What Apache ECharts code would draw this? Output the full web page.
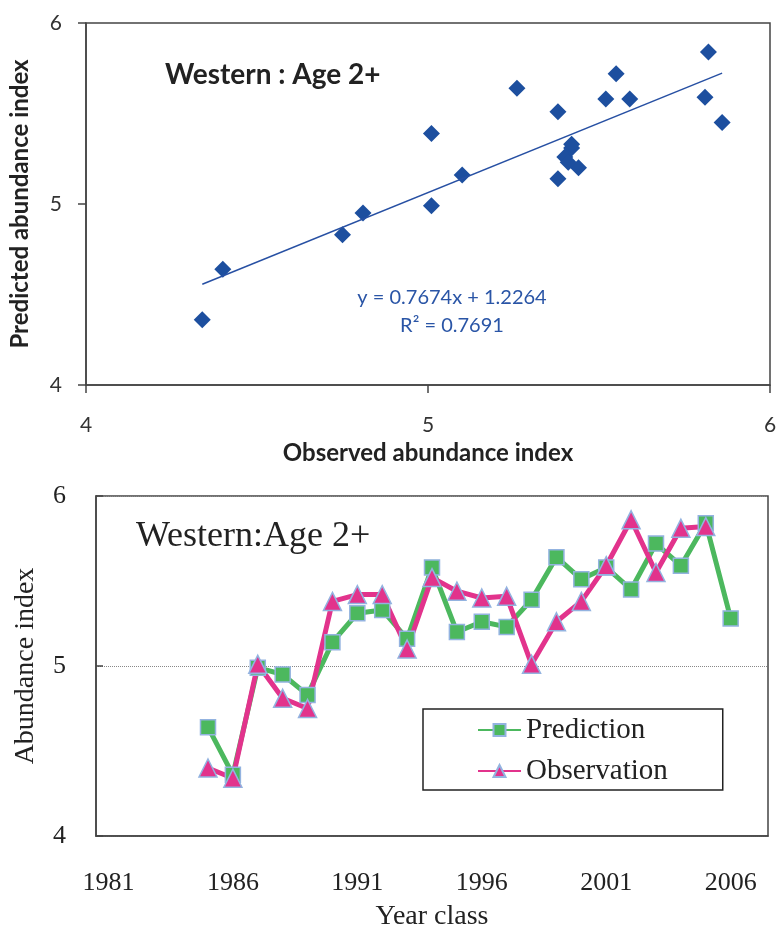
<!DOCTYPE html>
<html>
<head>
<meta charset="utf-8">
<script src="https://cdn.jsdelivr.net/npm/echarts@6/dist/echarts.min.js"></script>
<style>
  html, body { margin: 0; padding: 0; background: #fff; }
  #main { width: 779px; height: 932px; }
</style>
</head>
<body>
<div id="main"></div>
<script>
// year classes with data
const years = [1985, 1986, 1987, 1988, 1989, 1990, 1991, 1992, 1993, 1994, 1995,
  1996, 1997, 1998, 1999, 2000, 2001, 2002, 2003, 2004, 2005, 2006];
const observed = [4.40, 4.34, 5.01, 4.81, 4.75, 5.38, 5.42, 5.42, 5.10, 5.52, 5.44,
  5.40, 5.41, 5.01, 5.26, 5.38, 5.59, 5.86, 5.55, 5.81, 5.82, null];
const predicted = [4.64, 4.36, 4.99, 4.95, 4.83, 5.14, 5.31, 5.33, 5.16, 5.58, 5.20,
  5.26, 5.23, 5.39, 5.64, 5.51, 5.58, 5.45, 5.72, 5.59, 5.84, 5.28];
// category axis of the time series
const axisYears = ['1981', '1982', '1983', '1984', '1985', '1986', '1987', '1988', '1989',
  '1990', '1991', '1992', '1993', '1994', '1995', '1996', '1997', '1998', '1999', '2000',
  '2001', '2002', '2003', '2004', '2005', '2006', '2007'];
// fitted line y = 0.7674x + 1.2264, drawn over the observed range
const trendLine = [[4.34, 4.557], [5.86, 5.723]];
const eqText = ['y = 0.7674x + 1.2264', 'R\u00b2 = 0.7691'];

const blue = '#1d4f9f';
const green = '#4cb85e';
const pink = '#e2338c';
const edge = '#93b3e0';
const frame = '#444';
const sans = 'Lato';
const serif = 'Liberation Serif';

var dom = document.getElementById('main');
var myChart = echarts.init(dom, null, { renderer: 'canvas' });

var scatterData = [];
for (let i = 0; i < years.length; i++) {
  if (observed[i] != null) scatterData.push([observed[i], predicted[i]]);
}
var predData = years.map((y, i) => [String(y), predicted[i]]);
var obsData = [];
years.forEach((y, i) => { if (observed[i] != null) obsData.push([String(y), observed[i]]); });

var option = {
  backgroundColor: '#fff',
  animation: false,
  grid: [
    { left: 86, top: 23, width: 684, height: 362, show: true, borderColor: frame, borderWidth: 1.5,
      backgroundColor: '#fff', outerBoundsMode: 'none', containLabel: false },
    { left: 96, top: 496, width: 672, height: 340, show: true, borderColor: frame, borderWidth: 1.5,
      backgroundColor: '#fff', outerBoundsMode: 'none', containLabel: false }
  ],
  xAxis: [
    {
      gridIndex: 0, type: 'value', min: 4, max: 6, interval: 1,
      splitLine: { show: false },
      axisLine: { lineStyle: { color: frame, width: 1.5 } },
      axisTick: { length: 8, lineStyle: { color: frame, width: 1.5 } },
      axisLabel: { margin: 30, fontSize: 21, fontFamily: sans, color: '#333' },
      name: 'Observed abundance index', nameLocation: 'middle', nameGap: 56,
      nameTextStyle: { fontSize: 24, fontWeight: 'bold', fontFamily: sans, color: '#222' }
    },
    {
      gridIndex: 1, type: 'category', data: axisYears, boundaryGap: true,
      axisLine: { lineStyle: { color: frame, width: 1.5 } },
      axisTick: { inside: true, length: 8, interval: 0, lineStyle: { color: frame, width: 1.2 } },
      axisLabel: { interval: 4, margin: 34, fontSize: 26, fontFamily: serif, color: '#222' },
      name: 'Year class', nameLocation: 'middle', nameGap: 67,
      nameTextStyle: { fontSize: 28, fontFamily: serif, color: '#222' }
    }
  ],
  yAxis: [
    {
      gridIndex: 0, type: 'value', min: 4, max: 6, interval: 1,
      splitLine: { show: false },
      axisLine: { show: true, lineStyle: { color: frame, width: 1.5 } },
      axisTick: { show: true, length: 8, lineStyle: { color: frame, width: 1.5 } },
      axisLabel: { margin: 24, fontSize: 21, fontFamily: sans, color: '#333' },
      name: 'Predicted abundance index', nameLocation: 'middle', nameGap: 54,
      nameTextStyle: { fontSize: 24, fontWeight: 'bold', fontFamily: sans, color: '#222' }
    },
    {
      gridIndex: 1, type: 'value', min: 4, max: 6, interval: 1,
      splitLine: { show: true, lineStyle: { type: 'dotted', color: '#888', width: 1 } },
      axisLine: { show: true, lineStyle: { color: frame, width: 1.5 } },
      axisTick: { show: true, inside: true, length: 7, lineStyle: { color: frame, width: 1.5 } },
      axisLabel: { margin: 30, fontSize: 26, fontFamily: serif, color: '#222' },
      name: 'Abundance index', nameLocation: 'middle', nameGap: 56,
      nameTextStyle: { fontSize: 28, fontFamily: serif, color: '#222' }
    }
  ],
  legend: {
    data: ['Prediction', 'Observation'],
    orient: 'vertical', left: 423, top: 709,
    borderColor: '#222', borderWidth: 1.5, backgroundColor: '#fff',
    padding: [6, 55, 4, 54],
    itemWidth: 43, itemHeight: 15, itemGap: 11,
    textStyle: { fontSize: 29, fontFamily: serif, color: '#222', lineHeight: 30 }
  },
  graphic: [
    { type: 'text', left: 165, top: 61, style: { text: 'Western : Age 2+', font: 'bold 28px Lato', fill: '#222' } },
    { type: 'text', left: 136, top: 519, style: { text: 'Western:Age 2+', font: '36px "Liberation Serif"', fill: '#222' } },
    { type: 'text', x: 452, y: 298, style: { text: eqText[0], font: '20px Lato', fill: '#2a55a6', align: 'center', verticalAlign: 'middle' } },
    { type: 'text', x: 452, y: 326, style: { text: eqText[1], font: '20px Lato', fill: '#2a55a6', align: 'center', verticalAlign: 'middle' } }
  ],
  series: [
    {
      name: 'fit', type: 'line', xAxisIndex: 0, yAxisIndex: 0,
      data: trendLine, symbol: 'none', silent: true,
      lineStyle: { color: '#2750a3', width: 1.5 }
    },
    {
      name: 'scatter', type: 'scatter', xAxisIndex: 0, yAxisIndex: 0,
      data: scatterData, symbol: 'diamond', symbolSize: [17, 17],
      itemStyle: { color: blue, opacity: 1 }
    },
    {
      name: 'Prediction', type: 'line', xAxisIndex: 1, yAxisIndex: 1,
      data: predData, symbol: 'rect', symbolSize: 15, showAllSymbol: true,
      lineStyle: { color: green, width: 5 },
      itemStyle: { color: green, borderColor: edge, borderWidth: 1.5 }
    },
    {
      name: 'Observation', type: 'line', xAxisIndex: 1, yAxisIndex: 1,
      data: obsData, symbol: 'triangle', symbolSize: 18, showAllSymbol: true,
      lineStyle: { color: pink, width: 5 },
      itemStyle: { color: pink, borderColor: edge, borderWidth: 1.5 }
    }
  ]
};

if (option && typeof option === 'object') {
  myChart.setOption(option);
}
window.addEventListener('resize', myChart.resize);
</script>
</body>
</html>
